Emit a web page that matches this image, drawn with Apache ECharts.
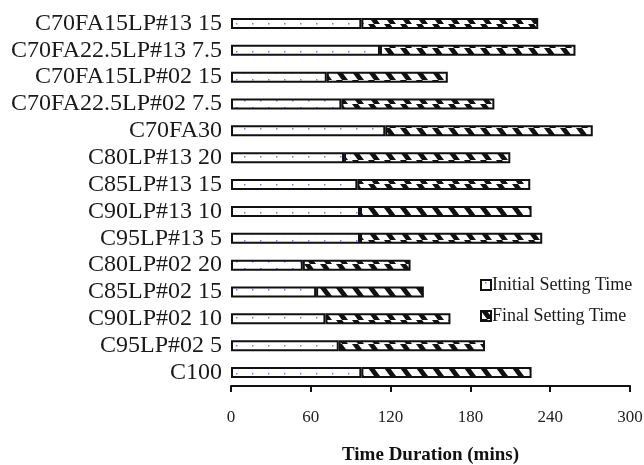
<!DOCTYPE html>
<html>
<head>
<meta charset="utf-8">
<script src="https://cdn.jsdelivr.net/npm/echarts@6/dist/echarts.min.js"></script>
<style>
  html, body { margin: 0; padding: 0; background: #fff; }
  #main { width: 644px; height: 465px; }
</style>
</head>
<body>
<div id="main"></div>
<script>
var mixes = ['C70FA15LP#13 15', 'C70FA22.5LP#13 7.5', 'C70FA15LP#02 15', 'C70FA22.5LP#02 7.5',
    'C70FA30', 'C80LP#13 20', 'C85LP#13 15', 'C90LP#13 10', 'C95LP#13 5',
    'C80LP#02 20', 'C85LP#02 15', 'C90LP#02 10', 'C95LP#02 5', 'C100'];
// minutes
var initialSetting = [98, 112, 72, 83, 116, 85, 95, 97, 97, 54, 64, 71, 81, 98];
var finalSetting = [231, 259, 163, 198, 272, 210, 225, 226, 234, 135, 145, 165, 191, 226];
var xTicks = [0, 60, 120, 180, 240, 300];

function dotPattern() {
    var c = document.createElement('canvas');
    c.width = 16; c.height = 14;
    var ctx = c.getContext('2d');
    ctx.fillStyle = '#fff';
    ctx.fillRect(0, 0, 16, 14);
    ctx.fillStyle = '#7b7bff';
    ctx.fillRect(4, 2, 1.5, 1.5);
    ctx.fillRect(12, 9, 1.5, 1.5);
    return c;
}

function hatchPattern() {
    var c = document.createElement('canvas');
    c.width = 16; c.height = 8;
    var ctx = c.getContext('2d');
    ctx.fillStyle = '#fff';
    ctx.fillRect(0, 0, 16, 8);
    ctx.fillStyle = '#111';
    [-16, 0, 16].forEach(function (o) {
        ctx.beginPath();
        ctx.moveTo(o, 0);
        ctx.lineTo(o + 6, 0);
        ctx.lineTo(o + 12, 8);
        ctx.lineTo(o + 6, 8);
        ctx.closePath();
        ctx.fill();
    });
    return c;
}

var gap = finalSetting.map(function (v, i) { return v - initialSetting[i]; });

var myChart = echarts.init(document.getElementById('main'));
var font = '"Liberation Serif", "Times New Roman", serif';
var option = {
    animation: false,
    textStyle: { fontFamily: font },
    grid: { left: 231, right: 14, top: 10, bottom: 79, outerBoundsMode: 'none' },
    legend: {
        orient: 'vertical',
        left: 475,
        top: 271,
        itemWidth: 10,
        itemHeight: 10,
        itemGap: 13,
        icon: 'rect',
        textStyle: { fontFamily: font, fontSize: 18, color: '#1a1a1a', padding: [0, 0, 0, -4] },
        data: ['Initial Setting Time', 'Final Setting Time']
    },
    xAxis: {
        type: 'value',
        min: xTicks[0],
        max: xTicks[xTicks.length - 1],
        interval: 60,
        name: 'Time Duration (mins)',
        nameLocation: 'middle',
        nameGap: 60,
        nameTextStyle: { fontFamily: font, fontSize: 19, fontWeight: 'bold', color: '#111' },
        axisLine: { show: true, lineStyle: { color: '#111', width: 2 } },
        axisTick: { show: true, length: 6, lineStyle: { color: '#111', width: 2 } },
        axisLabel: { margin: 23, fontFamily: font, fontSize: 17, color: '#222' },
        splitLine: { show: false }
    },
    yAxis: {
        type: 'category',
        inverse: true,
        data: mixes,
        axisLine: { show: false },
        axisTick: { show: false },
        axisLabel: { interval: 0, margin: 9, fontFamily: font, fontSize: 24, color: '#1a1a1a' }
    },
    series: [
        {
            name: 'Initial Setting Time',
            type: 'bar',
            stack: 'time',
            barWidth: 11,
            data: initialSetting,
            itemStyle: {
                color: { image: dotPattern(), repeat: 'repeat' },
                borderColor: '#111',
                borderWidth: 2
            }
        },
        {
            name: 'Final Setting Time',
            type: 'bar',
            stack: 'time',
            barWidth: 11,
            data: gap,
            itemStyle: {
                color: { image: hatchPattern(), repeat: 'repeat' },
                borderColor: '#111',
                borderWidth: 2
            }
        }
    ]
};
myChart.setOption(option);
</script>
</body>
</html>
